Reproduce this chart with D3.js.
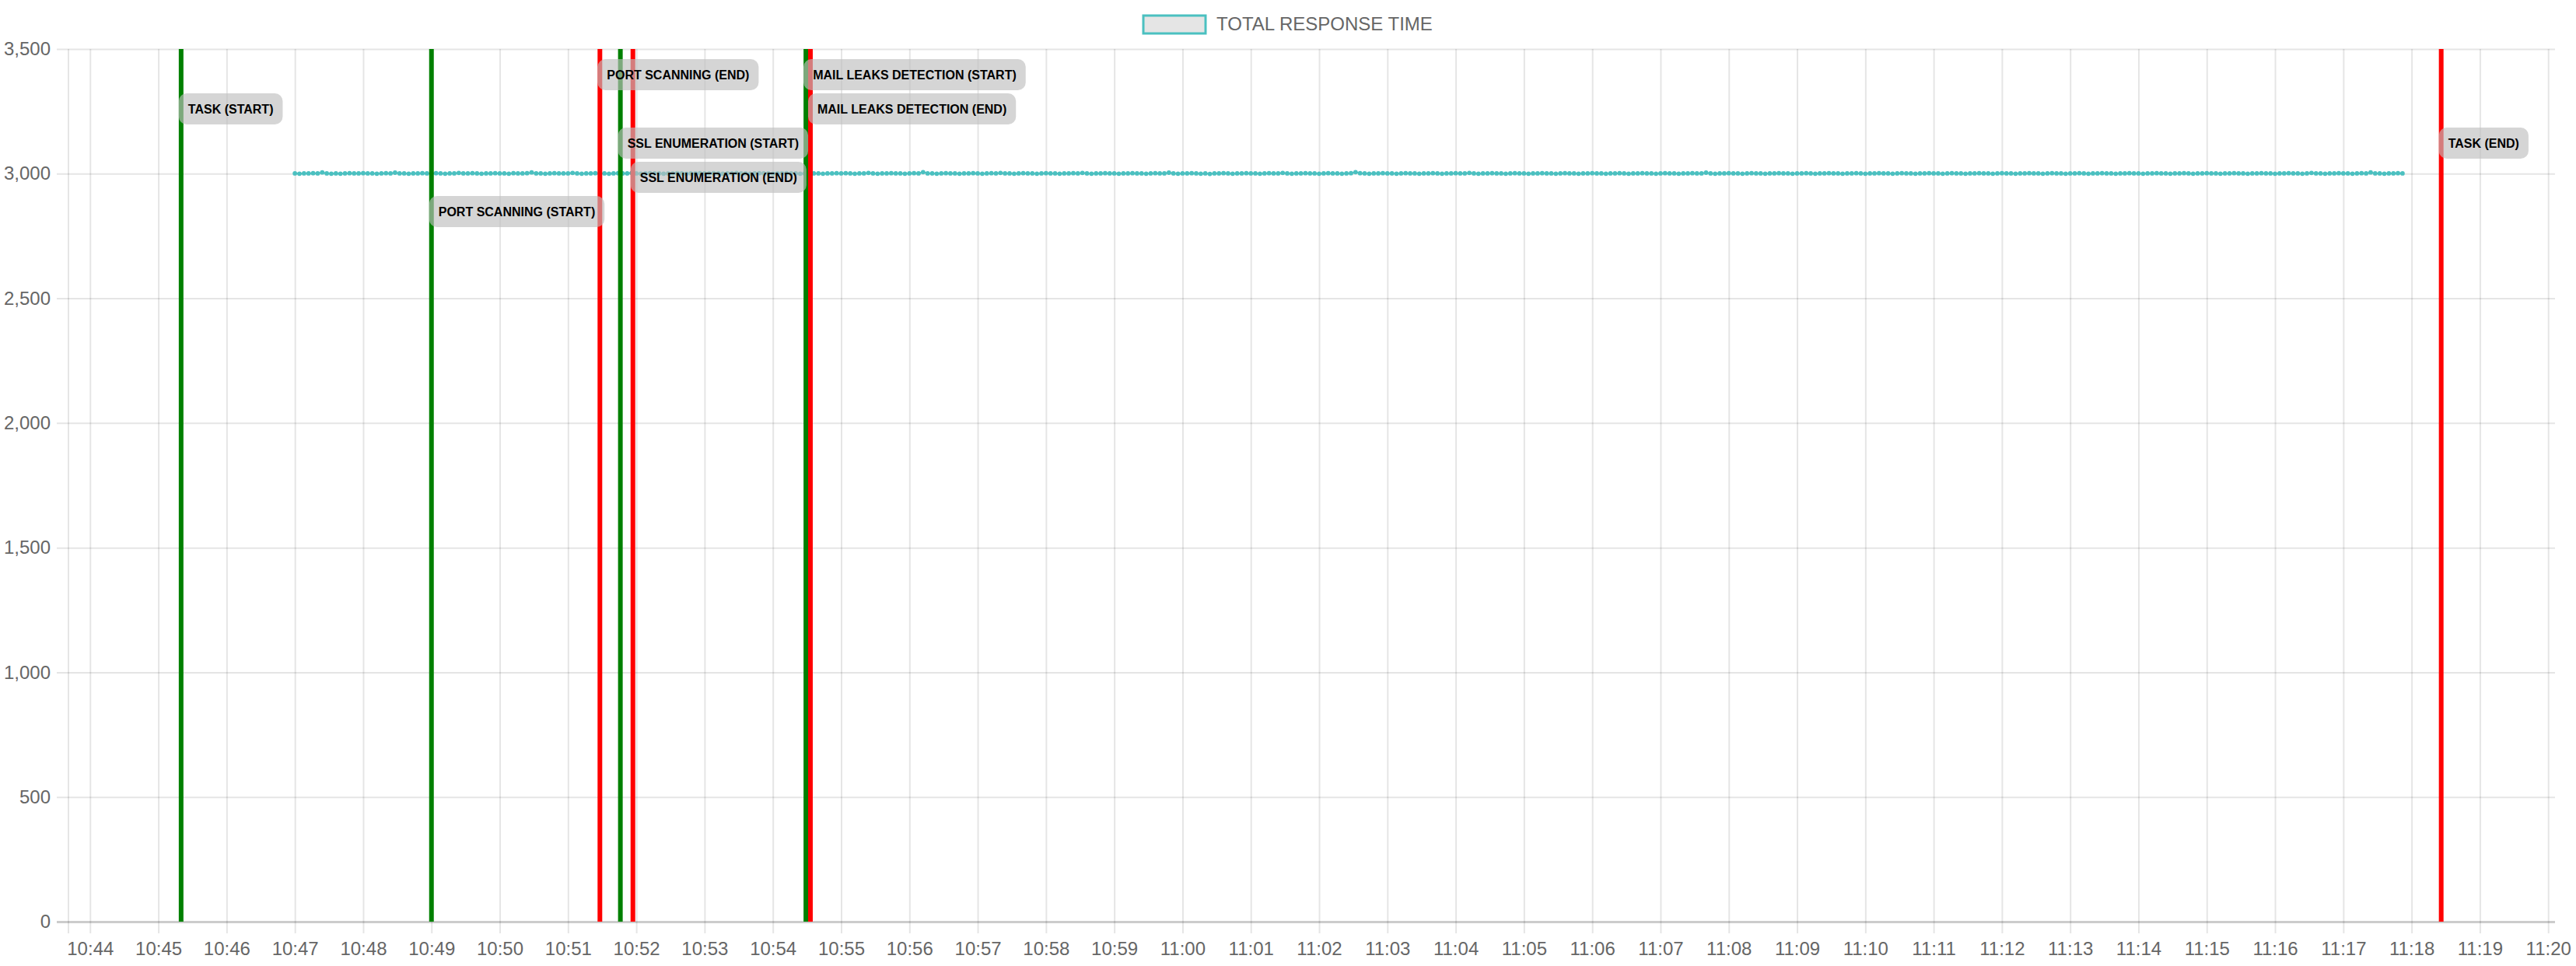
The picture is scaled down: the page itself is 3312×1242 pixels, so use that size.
<!DOCTYPE html>
<html>
<head>
<meta charset="utf-8">
<script src="https://cdn.jsdelivr.net/npm/d3@7"></script>
<style>
	body { margin: 0; background: #fff; }
	text { font-family: "Liberation Sans", Arial, Helvetica, sans-serif; }
</style>
</head>
<body>
<svg id="chart"></svg>
<script>
// x axis range and tick labels
const axisStart = "10:43:41";
const axisEnd = "11:20:06";
const xTickLabels = ["10:44", "10:45", "10:46", "10:47", "10:48", "10:49", "10:50", "10:51", "10:52",
	"10:53", "10:54", "10:55", "10:56", "10:57", "10:58", "10:59", "11:00", "11:01", "11:02", "11:03",
	"11:04", "11:05", "11:06", "11:07", "11:08", "11:09", "11:10", "11:11", "11:12", "11:13", "11:14",
	"11:15", "11:16", "11:17", "11:18", "11:19", "11:20"];
const yTickValues = [0, 500, 1000, 1500, 2000, 2500, 3000, 3500];

// total response time, one sample every 4 seconds starting at 10:47:00 (one row per minute)
const seriesName = "TOTAL RESPONSE TIME";
const sampleStart = "10:47:00";
const sampleStepSeconds = 4;
const responseTimes = [
	3001, 3000, 3001, 3001, 3002, 3001, 3005, 3001, 3000, 3001, 3000, 3001, 3002, 3001, 3001,
	3002, 3001, 3001, 3000, 3001, 3002, 3001, 3004, 3001, 3001, 3000, 3001, 3001, 3002, 3001,
	3001, 3002, 3001, 3000, 3001, 3001, 3003, 3001, 3001, 3002, 3001, 3000, 3001, 3001, 3002,
	3001, 3001, 3000, 3002, 3001, 3001, 3002, 3005, 3001, 3001, 3000, 3001, 3002, 3001, 3001,
	3001, 3003, 3001, 3000, 3001, 3001, 3002, 3001, 3001, 3000, 3001, 3002, 3001, 3001, 3003,
	3001, 3000, 3001, 3002, 3001, 3001, 3000, 3001, 3001, 3002, 3001, 3000, 3001, 3001, 3002,
	3001, 3001, 3002, 3001, 3000, 3001, 3001, 3003, 3001, 3001, 3000, 3001, 3002, 3001, 3001,
	3000, 3001, 3001, 3002, 3001, 3001, 3000, 3001, 3002, 3001, 3001, 3000, 3001, 3001, 3002,
	3001, 3002, 3001, 3000, 3001, 3001, 3003, 3001, 3000, 3001, 3001, 3002, 3001, 3001, 3000,
	3001, 3002, 3001, 3006, 3001, 3001, 3000, 3001, 3002, 3001, 3001, 3000, 3001, 3001, 3002,
	3001, 3000, 3001, 3002, 3001, 3003, 3001, 3001, 3000, 3001, 3002, 3001, 3001, 3000, 3001,
	3002, 3001, 3001, 3000, 3001, 3001, 3002, 3001, 3003, 3001, 3000, 3001, 3001, 3002, 3001,
	3001, 3000, 3001, 3001, 3002, 3001, 3001, 3000, 3001, 3002, 3001, 3001, 3004, 3001, 3000,
	3001, 3001, 3002, 3001, 3000, 3001, 2999, 3001, 3001, 3002, 3001, 3000, 3001, 3001, 3002,
	3001, 3001, 3000, 3001, 3002, 3001, 3001, 3003, 3001, 3000, 3001, 3001, 3002, 3001, 3001,
	3000, 3001, 3002, 3001, 3001, 3000, 3001, 3002, 3006, 3002, 3001, 3000, 3001, 3001, 3002,
	3001, 3001, 3000, 3001, 3002, 3001, 3001, 3000, 3001, 3001, 3002, 3001, 3000, 3001, 3001,
	3002, 3001, 3001, 3003, 3001, 3000, 3001, 3001, 3002, 3001, 3001, 3000, 3001, 3002, 3001,
	3001, 3000, 3001, 3001, 3002, 3001, 3001, 3000, 3001, 3002, 3001, 3001, 3000, 3001, 3001,
	3002, 3001, 3001, 3000, 3001, 3001, 3002, 3001, 3000, 3001, 3001, 3002, 3001, 3001, 3000,
	3001, 3002, 3001, 3001, 3000, 3001, 3001, 3002, 3001, 3001, 3004, 3001, 3000, 3001, 3001,
	3002, 3001, 3001, 3000, 3001, 3002, 3001, 3001, 3000, 3001, 3001, 3002, 3001, 3001, 3000,
	3001, 3001, 3002, 3001, 3000, 3001, 3001, 3002, 3001, 3001, 3000, 3001, 3001, 3002, 3001,
	3000, 3001, 3001, 3002, 3001, 3001, 3000, 3001, 3002, 3001, 3001, 3000, 3001, 3001, 3002,
	3001, 3001, 3000, 3001, 3002, 3001, 3001, 3000, 3001, 3001, 3002, 3001, 3001, 3000, 3001,
	3002, 3001, 3001, 3000, 3001, 3001, 3002, 3001, 3001, 3000, 3001, 3002, 3001, 3001, 3000,
	3001, 3001, 3002, 3001, 3000, 3001, 3001, 3002, 3001, 3001, 3000, 3001, 3001, 3002, 3001,
	3001, 3000, 3001, 3001, 3002, 3001, 3001, 3000, 3001, 3001, 3002, 3001, 3000, 3001, 3001,
	3002, 3001, 3001, 3000, 3001, 3001, 3002, 3001, 3001, 3000, 3001, 3001, 3002, 3001, 3001,
	3000, 3001, 3001, 3002, 3001, 3001, 3000, 3001, 3003, 3001, 3001, 3000, 3001, 3001, 3002,
	3001, 3001, 3000, 3001, 3002, 3001, 3005, 3001, 3001, 3000, 3001, 3001, 3002, 3001
];

// task events drawn as vertical lines
const eventNames = ["TASK (START)", "PORT SCANNING (START)", "PORT SCANNING (END)", "SSL ENUMERATION (START)",
	"SSL ENUMERATION (END)", "MAIL LEAKS DETECTION (START)", "MAIL LEAKS DETECTION (END)", "TASK (END)"];
const eventTimes = ["10:45:20", "10:49:00", "10:51:28", "10:51:46", "10:51:57", "10:54:29", "10:54:33", "11:18:26"];
const eventKinds = ["start", "start", "end", "start", "end", "start", "end", "end"];

// set the dimensions and margins of the graph
const fullWidth = 3312, fullHeight = 1242;
const margin = { top: 63, right: 27, bottom: 57, left: 88 },
	width = fullWidth - margin.left - margin.right,
	height = fullHeight - margin.top - margin.bottom;
const tickOut = 15;
const teal = "rgb(75,192,192)";
const gridColor = "rgba(0,0,0,0.1)";

const parseTime = d3.timeParse("%H:%M:%S");
const parseMinute = d3.timeParse("%H:%M");

const svg = d3.select("#chart")
	.attr("width", fullWidth)
	.attr("height", fullHeight)
	.style("display", "block");

const g = svg.append("g")
	.attr("transform", "translate(" + margin.left + "," + margin.top + ")");

const x = d3.scaleTime()
	.domain([parseTime(axisStart), parseTime(axisEnd)])
	.range([0, width]);

const y = d3.scaleLinear()
	.domain([0, 3500])
	.range([height, 0]);

// y axis with gridlines running across the plot
const yAxis = g.append("g")
	.attr("transform", `translate(${-tickOut},0)`)
	.call(d3.axisLeft(y)
		.tickValues(yTickValues)
		.tickFormat(d3.format(","))
		.tickSizeInner(-(width + tickOut))
		.tickSizeOuter(0)
		.tickPadding(8));
yAxis.select(".domain").remove();
yAxis.selectAll(".tick line")
	.attr("stroke", d => d === 0 ? "rgba(0,0,0,0.2)" : gridColor)
	.attr("stroke-width", d => d === 0 ? 3 : 2);
yAxis.selectAll(".tick text")
	.attr("fill", "#666")
	.style("font-size", "24px");

// x axis with vertical gridlines
const xAxis = g.append("g")
	.attr("transform", `translate(0,${height + tickOut})`)
	.call(d3.axisBottom(x)
		.tickValues(xTickLabels.map(parseMinute).map(d => {
			const t = parseTime(axisStart);
			t.setHours(d.getHours(), d.getMinutes(), 0);
			return t;
		}))
		.tickFormat(d3.timeFormat("%H:%M"))
		.tickSizeInner(-(height + tickOut))
		.tickSizeOuter(0)
		.tickPadding(11));
xAxis.select(".domain").remove();
xAxis.selectAll(".tick line")
	.attr("stroke", gridColor)
	.attr("stroke-width", 2);
xAxis.selectAll(".tick text")
	.attr("fill", "#666")
	.style("font-size", "24px");

// left border of the plot area
g.append("line")
	.attr("x1", 0).attr("x2", 0)
	.attr("y1", 0).attr("y2", height + tickOut)
	.attr("stroke", gridColor)
	.attr("stroke-width", 2);

// series points
const t0 = parseTime(sampleStart);
const points = responseTimes.map((v, i) => ({
	time: new Date(t0.getTime() + i * sampleStepSeconds * 1000),
	value: v
}));

const line = d3.line()
	.x(d => x(d.time))
	.y(d => y(d.value));

g.append("path")
	.datum(points)
	.attr("fill", "none")
	.attr("stroke", teal)
	.attr("stroke-width", 2)
	.attr("d", line);

g.selectAll(".dot")
	.data(points)
	.join("circle")
	.attr("class", "dot")
	.attr("cx", d => x(d.time))
	.attr("cy", d => y(d.value))
	.attr("r", 2.9)
	.attr("fill", teal);

// event lines
const events = eventNames.map((name, i) => ({
	name: name,
	time: parseTime(eventTimes[i]),
	kind: eventKinds[i]
}));

g.selectAll(".event-line")
	.data(events)
	.join("line")
	.attr("class", "event-line")
	.attr("x1", d => x(d.time))
	.attr("x2", d => x(d.time))
	.attr("y1", 0)
	.attr("y2", height)
	.attr("stroke", d => d.kind === "start" ? "#008000" : "#ff0000")
	.attr("stroke-width", 6);

// event labels, stacked in rows so they don't collide
const labelRow = [1, 4, 0, 2, 3, 0, 1, 2];
const labelH = 40, rowGap = 44, rowTop = 13, padX = 12;

const labels = g.selectAll(".event-label")
	.data(events)
	.join("g")
	.attr("class", "event-label")
	.attr("transform", (d, i) => `translate(${x(d.time) - 3},${rowTop + labelRow[i] * rowGap})`);

labels.append("rect")
	.attr("height", labelH)
	.attr("rx", 10)
	.attr("fill", "rgba(190,190,190,0.65)");

labels.append("text")
	.attr("x", padX)
	.attr("y", labelH / 2)
	.attr("dy", "0.35em")
	.style("font-size", "16px")
	.style("font-weight", "bold")
	.attr("fill", "#000")
	.text(d => d.name);

labels.each(function () {
	const w = d3.select(this).select("text").node().getComputedTextLength();
	d3.select(this).select("rect").attr("width", w + padX * 2);
});

// legend
const legend = svg.append("g")
	.attr("transform", "translate(1470,20)");
legend.append("rect")
	.attr("width", 80)
	.attr("height", 23)
	.attr("fill", "rgba(0,0,0,0.1)")
	.attr("stroke", teal)
	.attr("stroke-width", 3);
legend.append("text")
	.attr("x", 94)
	.attr("y", 19)
	.attr("fill", "#666")
	.style("font-size", "24px")
	.text(seriesName);
</script>
</body>
</html>
